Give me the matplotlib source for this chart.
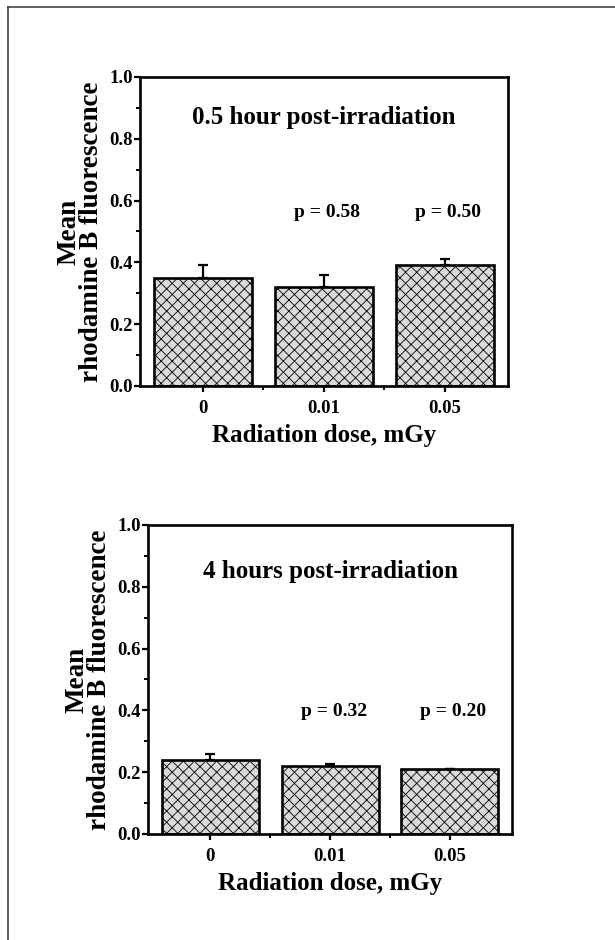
import numpy as np
import matplotlib
matplotlib.use("Agg")
from matplotlib import pyplot as plt
from matplotlib.lines import Line2D
from matplotlib.ticker import MultipleLocator, FixedLocator, FormatStrFormatter

plt.rcParams['font.family'] = ['Liberation Serif', 'DejaVu Serif']
plt.rcParams['font.weight'] = 'bold'
plt.rcParams['axes.labelweight'] = 'bold'
plt.rcParams['hatch.linewidth'] = 0.6

doses = ['0', '0.01', '0.05']

# 0.5 hour post-irradiation
means_05h = [0.35, 0.32, 0.39]
errs_05h = [0.04, 0.04, 0.02]
pvals_05h = ['', 'p = 0.58', 'p = 0.50']

# 4 hours post-irradiation
means_4h = [0.24, 0.22, 0.21]
errs_4h = [0.02, 0.005, 0.0]
pvals_4h = ['', 'p = 0.32', 'p = 0.20']


def draw_panel(ax, means, errs, pvals, title, title_y, p_y, p_dx):
	x = np.arange(len(doses))
	ax.bar(x, means, width=0.81, facecolor='#dadada', edgecolor='black',
		linewidth=1.9, hatch='xxx', zorder=2)
	ax.errorbar(x, means, yerr=[np.zeros(len(errs)), errs], fmt='none',
		ecolor='black', elinewidth=1.6, capsize=3.5, capthick=1.6, zorder=1)
	ax.set_xlim(-0.52, 2.52)
	ax.set_ylim(0, 1.0)
	ax.set_xticks(x)
	ax.set_xticklabels(doses)
	ax.xaxis.set_minor_locator(FixedLocator([0.5, 1.5]))
	ax.yaxis.set_major_locator(MultipleLocator(0.2))
	ax.yaxis.set_minor_locator(MultipleLocator(0.1))
	ax.yaxis.set_major_formatter(FormatStrFormatter('%.1f'))
	ax.tick_params(which='major', direction='out', length=4, width=1.6, labelsize=13.5)
	ax.tick_params(which='minor', direction='out', length=3, width=1.4)
	ax.tick_params(axis='x', pad=6)
	ax.tick_params(axis='y', pad=1)
	for s in ax.spines.values():
		s.set_linewidth(1.9)
	ax.set_xlabel('Radiation dose, mGy', fontsize=18, labelpad=5)
	ax.set_ylabel('Mean\nrhodamine B fluorescence', fontsize=19.5, labelpad=4, linespacing=0.85)
	ax.text(1.0, title_y, title, ha='center', va='center', fontsize=18)
	for i, p in enumerate(pvals):
		if p:
			ax.text(x[i] + p_dx, p_y, p, ha='center', va='center', fontsize=14)


fig = plt.figure(figsize=(6.15, 9.4), dpi=100)

ax1 = fig.add_axes([0.2276, 0.5894, 0.598, 0.3287])
draw_panel(ax1, means_05h, errs_05h, pvals_05h, '0.5 hour post-irradiation', 0.87, 0.563, 0.03)

ax2 = fig.add_axes([0.2407, 0.1128, 0.592, 0.3287])
draw_panel(ax2, means_4h, errs_4h, pvals_4h, '4 hours post-irradiation', 0.848, 0.395, 0.03)

# frame lines at left and top of the figure
fig.add_artist(Line2D([8 / 615, 8 / 615], [0, 1 - 7 / 940], color='#444444', lw=1.2))
fig.add_artist(Line2D([8 / 615, 1], [1 - 7 / 940, 1 - 7 / 940], color='#444444', lw=1.2))

fig.savefig('out.png', dpi=100)
